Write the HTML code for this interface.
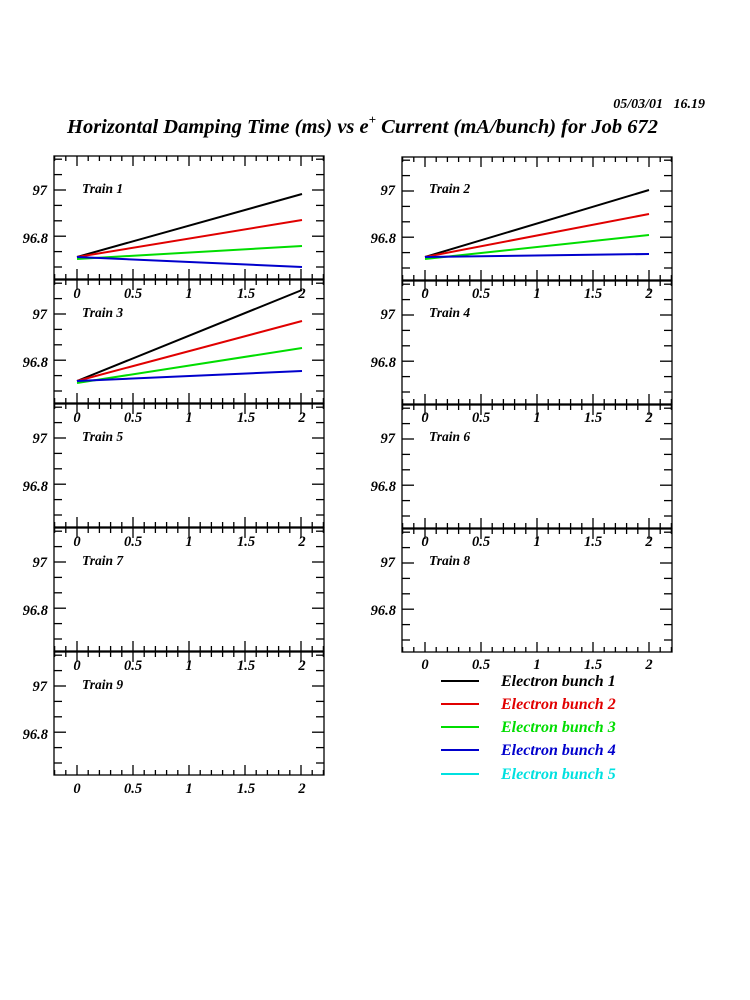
<!DOCTYPE html>
<html><head><meta charset="utf-8"><style>
html,body{margin:0;padding:0;background:#fff;}
svg{display:block}
text{font-family:"Liberation Serif",serif;font-weight:bold;font-style:italic;}
.t{font-size:13.5px}
.n{font-size:14.5px}
</style></head><body>
<svg id="s" width="750" height="1000" xmlns="http://www.w3.org/2000/svg">
<text x="705" y="108" font-size="14" text-anchor="end" xml:space="preserve">05/03/01   16.19</text>
<text x="67" y="133" font-size="20.5">Horizontal Damping Time (ms) vs e<tspan dy="-9" font-size="13">+</tspan><tspan dy="9"> Current (mA/bunch) for Job 672</tspan></text>
<g id="frames" fill="none" stroke="#000" stroke-width="1.3"></g>
<g class="t">
<text x="82" y="193">Train 1</text>
<text x="429" y="193">Train 2</text>
<text x="82" y="317">Train 3</text>
<text x="429" y="317">Train 4</text>
<text x="82" y="441">Train 5</text>
<text x="429" y="441">Train 6</text>
<text x="82" y="565">Train 7</text>
<text x="429" y="565">Train 8</text>
<text x="82" y="689">Train 9</text>
</g>
<g class="n">
<g text-anchor="end">
<text x="47" y="195">97</text><text x="48" y="243">96.8</text>
<text x="47" y="319">97</text><text x="48" y="367">96.8</text>
<text x="47" y="443">97</text><text x="48" y="491">96.8</text>
<text x="47" y="567">97</text><text x="48" y="615">96.8</text>
<text x="47" y="691">97</text><text x="48" y="739">96.8</text>
<text x="395" y="195">97</text><text x="396" y="243">96.8</text>
<text x="395" y="319">97</text><text x="396" y="367">96.8</text>
<text x="395" y="443">97</text><text x="396" y="491">96.8</text>
<text x="395" y="567">97</text><text x="396" y="615">96.8</text>
</g>
<g text-anchor="middle">
<text x="77" y="298">0</text><text x="133" y="298">0.5</text><text x="189" y="298">1</text><text x="246" y="298">1.5</text><text x="302" y="298">2</text>
<text x="77" y="422">0</text><text x="133" y="422">0.5</text><text x="189" y="422">1</text><text x="246" y="422">1.5</text><text x="302" y="422">2</text>
<text x="77" y="546">0</text><text x="133" y="546">0.5</text><text x="189" y="546">1</text><text x="246" y="546">1.5</text><text x="302" y="546">2</text>
<text x="77" y="670">0</text><text x="133" y="670">0.5</text><text x="189" y="670">1</text><text x="246" y="670">1.5</text><text x="302" y="670">2</text>
<text x="77" y="793">0</text><text x="133" y="793">0.5</text><text x="189" y="793">1</text><text x="246" y="793">1.5</text><text x="302" y="793">2</text>
<text x="425" y="298">0</text><text x="481" y="298">0.5</text><text x="537" y="298">1</text><text x="593" y="298">1.5</text><text x="649" y="298">2</text>
<text x="425" y="422">0</text><text x="481" y="422">0.5</text><text x="537" y="422">1</text><text x="593" y="422">1.5</text><text x="649" y="422">2</text>
<text x="425" y="546">0</text><text x="481" y="546">0.5</text><text x="537" y="546">1</text><text x="593" y="546">1.5</text><text x="649" y="546">2</text>
<text x="425" y="669">0</text><text x="481" y="669">0.5</text><text x="537" y="669">1</text><text x="593" y="669">1.5</text><text x="649" y="669">2</text>
</g>
</g>
<g stroke-width="2" fill="none">
<line x1="77" y1="257" x2="302" y2="194" stroke="#000"/>
<line x1="77" y1="257" x2="302" y2="220" stroke="#e00000"/>
<line x1="77" y1="259" x2="302" y2="246" stroke="#00dd00"/>
<line x1="77" y1="257" x2="302" y2="267" stroke="#0000cc"/>
<line x1="425" y1="257" x2="649" y2="190" stroke="#000"/>
<line x1="425" y1="257" x2="649" y2="214" stroke="#e00000"/>
<line x1="425" y1="259" x2="649" y2="235" stroke="#00dd00"/>
<line x1="425" y1="257" x2="649" y2="254" stroke="#0000cc"/>
<line x1="77" y1="381" x2="302" y2="290" stroke="#000"/>
<line x1="77" y1="381" x2="302" y2="321" stroke="#e00000"/>
<line x1="77" y1="383" x2="302" y2="348" stroke="#00dd00"/>
<line x1="77" y1="381" x2="302" y2="371" stroke="#0000cc"/>
<line x1="441" y1="681" x2="479" y2="681" stroke="#000"/>
<line x1="441" y1="704" x2="479" y2="704" stroke="#e00000"/>
<line x1="441" y1="727" x2="479" y2="727" stroke="#00dd00"/>
<line x1="441" y1="750" x2="479" y2="750" stroke="#0000cc"/>
<line x1="441" y1="774" x2="479" y2="774" stroke="#00e0e0"/>
</g>
<g font-size="16">
<text x="501" y="686" fill="#000">Electron bunch 1</text>
<text x="501" y="709" fill="#e00000">Electron bunch 2</text>
<text x="501" y="732" fill="#00dd00">Electron bunch 3</text>
<text x="501" y="755" fill="#0000cc">Electron bunch 4</text>
<text x="501" y="779" fill="#00e0e0">Electron bunch 5</text>
</g>
</svg>
<script>
var g=document.getElementById('frames'),h='';
function panel(L,R,x0,top){
 var B=top+123;
 h+='<rect x="'+L+'" y="'+top+'" width="'+(R-L)+'" height="123"/>';
 for(var k=-2;k<=22;k++){var x=x0+k*11.2;if(x<=L||x>=R)continue;var len=(k%5==0)?10:5;
  h+='<line x1="'+x+'" y1="'+B+'" x2="'+x+'" y2="'+(B-len)+'"/><line x1="'+x+'" y1="'+top+'" x2="'+x+'" y2="'+(top+len)+'"/>';}
 for(var j=-2;j<=5;j++){var y=top+34+j*15.4;if(y<=top||y>=B)continue;var len=(j==0||j==3)?12:8;
  h+='<line x1="'+L+'" y1="'+y+'" x2="'+(L+len)+'" y2="'+y+'"/><line x1="'+R+'" y1="'+y+'" x2="'+(R-len)+'" y2="'+y+'"/>';}
}
for(var r=0;r<5;r++)panel(54,324,77,156+124*r);
for(var r=0;r<4;r++)panel(402,672,425,157+124*r);
g.innerHTML=h;
</script>
</body></html>
